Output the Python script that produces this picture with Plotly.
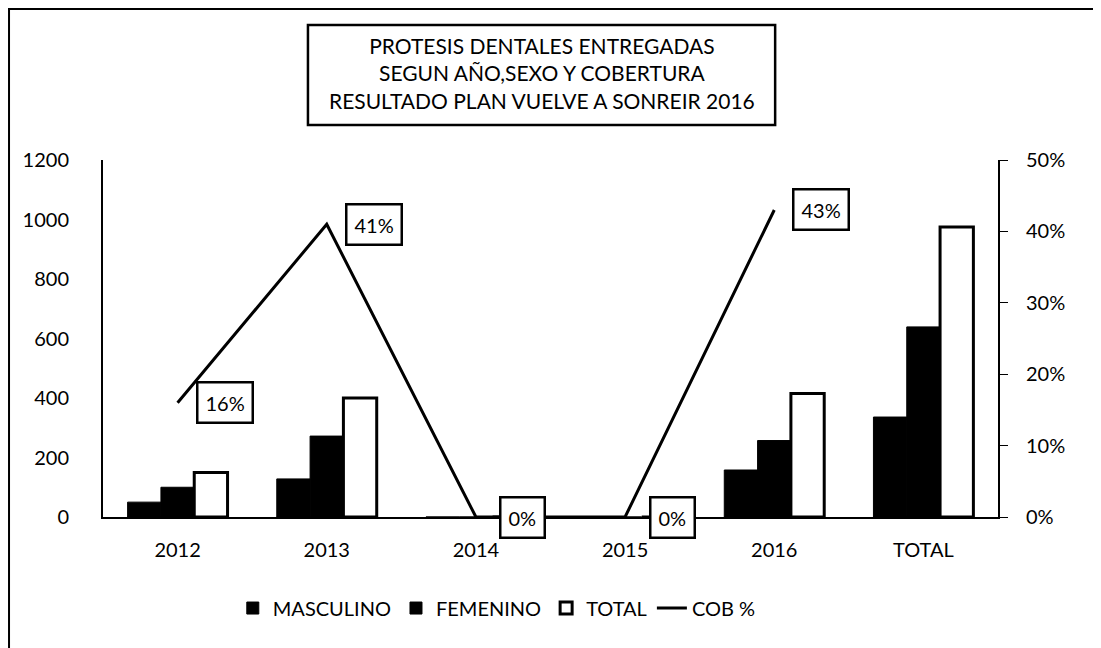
import plotly.graph_objects as go

categories = ["2012", "2013", "2014", "2015", "2016", "TOTAL"]
masculino = [50, 128, 0, 0, 158, 336]
femenino = [100, 272, 0, 0, 257, 639]
total = [150, 400, 0, 0, 415, 975]
cob = [0.16, 0.41, 0, 0, 0.43, None]

FONT = "Lato"

fig = go.Figure()

fig.add_trace(go.Bar(x=categories, y=masculino, name="MASCULINO",
                     marker=dict(color="black", line=dict(color="black", width=1))))
fig.add_trace(go.Bar(x=categories, y=femenino, name="FEMENINO",
                     marker=dict(color="black", line=dict(color="black", width=1))))
fig.add_trace(go.Bar(x=categories, y=total, name="TOTAL",
                     marker=dict(color="white", line=dict(color="black", width=3))))
fig.add_trace(go.Scatter(x=categories, y=cob, name="COB %", yaxis="y2",
                         mode="lines", line=dict(color="black", width=3),
                         connectgaps=False))

# boxed data labels for the coverage line
# (category index, since "2012"-like strings would be read as indices)
for i, v in enumerate(cob):
    if v is None:
        continue
    fig.add_annotation(x=i, y=v, xref="x", yref="y2",
                       text=f"{round(v * 100)}%", showarrow=False,
                       xshift=47, bgcolor="white", bordercolor="black",
                       borderwidth=2.5, borderpad=7,
                       font=dict(family=FONT, size=20, color="black"))

# boxed title
fig.add_shape(type="rect", xref="paper", yref="paper",
              x0=0.229, x1=0.751, y0=1.098, y1=1.378,
              line=dict(color="black", width=2.5), fillcolor="white")
fig.add_annotation(x=0.49, y=1.244, xref="paper", yref="paper",
                   xanchor="center", yanchor="middle",
                   text="PROTESIS DENTALES ENTREGADAS<br>SEGUN AÑO,SEXO Y COBERTURA"
                        "<br>RESULTADO PLAN VUELVE A SONREIR 2016",
                   showarrow=False,
                   font=dict(family=FONT, size=21, color="black"))

# outer frame
fig.add_shape(type="rect", xref="paper", yref="paper",
              x0=-0.105, x1=1.113, y0=-0.6, y1=1.423,
              line=dict(color="black", width=2))

# page has an 8px body margin, so the figure is drawn 8px smaller and offset
fig.update_layout(
    width=1093, height=640,
    margin=dict(l=95, r=103, t=152, b=131),
    paper_bgcolor="white", plot_bgcolor="white",
    barmode="group", bargap=0.33, bargroupgap=0,
    font=dict(family=FONT, size=20, color="black"),
    showlegend=True,
    legend=dict(orientation="h", x=0.44, xanchor="center", y=-0.255,
                yanchor="middle", font=dict(family=FONT, size=20),
                traceorder="normal"),
    xaxis=dict(type="category", showline=True, linecolor="black", linewidth=2,
               ticks="", showgrid=False, ticklabelstandoff=14),
    yaxis=dict(range=[0, 1200], dtick=200, showline=True, linecolor="black",
               linewidth=2, showgrid=False, zeroline=False, ticks="",
               ticklabelstandoff=28),
    yaxis2=dict(range=[0, 0.5], dtick=0.1, tickformat=".0%", overlaying="y",
                side="right", showline=True, linecolor="black", linewidth=2,
                showgrid=False, zeroline=False, ticks="outside", ticklen=8,
                tickcolor="black", ticklabelstandoff=14),
)

fig.write_html("out.html")
